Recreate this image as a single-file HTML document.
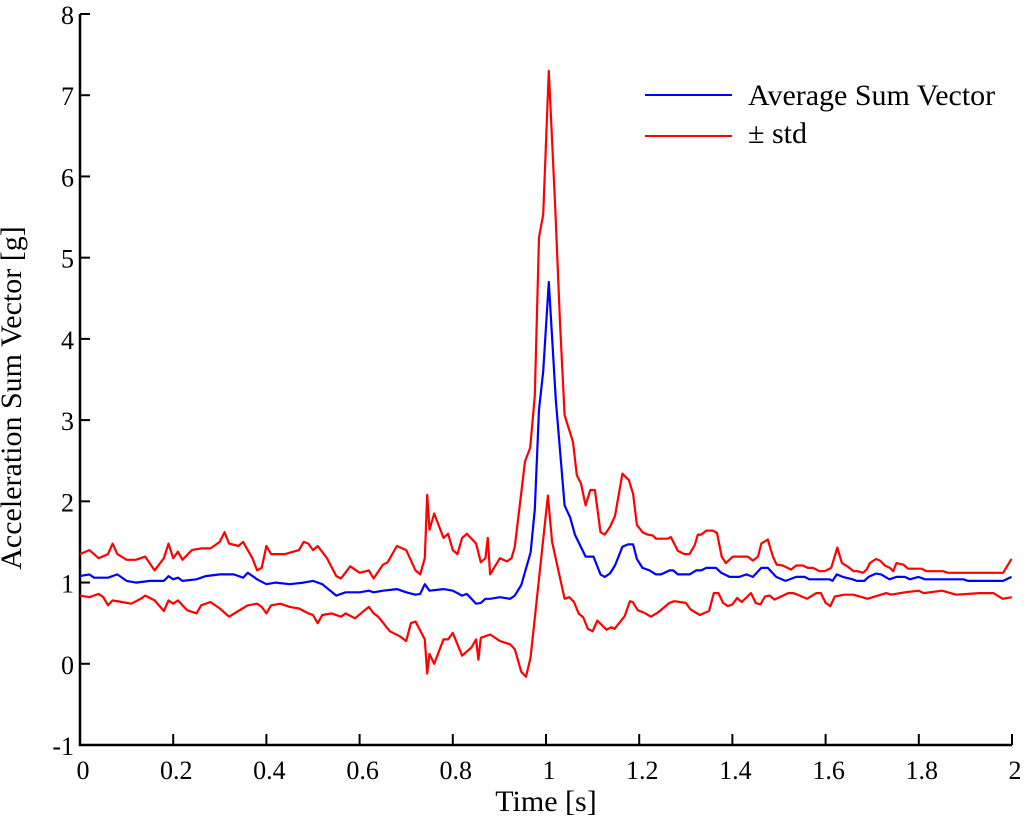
<!DOCTYPE html>
<html><head><meta charset="utf-8"><style>
html,body{margin:0;padding:0;background:#fff;}
svg{display:block;font-family:"Liberation Serif",serif;}
</style></head><body>
<svg id="chart" width="1024" height="828" viewBox="0 0 1024 828" xmlns="http://www.w3.org/2000/svg">
<g id="axes"></g>
<g id="series"></g>
<text x="0" y="0" transform="translate(21,398) rotate(-90)" text-anchor="middle" font-size="30">Acceleration Sum Vector [g]</text>
<text x="546" y="811" text-anchor="middle" font-size="30">Time [s]</text>
<g>
<line x1="645" y1="95" x2="732" y2="95" stroke="#0000ff" stroke-width="2"/>
<text x="748" y="105" font-size="30">Average Sum Vector</text>
<line x1="645" y1="136" x2="732" y2="136" stroke="#ff0000" stroke-width="2"/>
<text x="748" y="143" font-size="30">± std</text>
</g>
</svg>
<script>
const xTicks=[0,0.2,0.4,0.6,0.8,1,1.2,1.4,1.6,1.8,2];
const xTickLabels=["0","0.2","0.4","0.6","0.8","1","1.2","1.4","1.6","1.8","2"];
const yTicks=[-1,0,1,2,3,4,5,6,7,8];
const yTickLabels=["-1","0","1","2","3","4","5","6","7","8"];
const upperT=[0,.02,.04,.06,.07,.08,.1,.12,.14,.16,.18,.19,.2,.21,.22,.24,.26,.28,.3,.31,.32,.34,.35,.37,.38,.39,.4,.41,.44,.47,.48,.49,.5,.51,.53,.55,.56,.58,.6,.62,.63,.65,.66,.68,.7,.72,.73,.74,.745,.75,.76,.78,.79,.8,.81,.82,.83,.85,.86,.87,.875,.88,.901,.916,.926,.933,.955,.966,.976,.985,.994,1.006,1.02,1.03,1.04,1.058,1.066,1.075,1.085,1.095,1.105,1.117,1.126,1.137,1.148,1.164,1.178,1.187,1.195,1.207,1.218,1.229,1.236,1.261,1.268,1.283,1.297,1.308,1.319,1.326,1.333,1.344,1.358,1.367,1.377,1.386,1.401,1.433,1.444,1.455,1.462,1.476,1.487,1.495,1.508,1.526,1.537,1.551,1.562,1.573,1.587,1.598,1.612,1.625,1.635,1.649,1.66,1.668,1.68,1.688,1.695,1.708,1.717,1.727,1.738,1.745,1.752,1.767,1.777,1.806,1.817,1.852,1.863,1.981,1.999];
const upperV=[1.35,1.4,1.3,1.35,1.48,1.35,1.28,1.28,1.32,1.15,1.3,1.48,1.3,1.38,1.28,1.4,1.42,1.42,1.5,1.62,1.48,1.45,1.5,1.3,1.15,1.18,1.45,1.35,1.35,1.4,1.5,1.48,1.4,1.45,1.3,1.08,1.05,1.2,1.12,1.15,1.05,1.22,1.25,1.45,1.4,1.15,1.1,1.3,2.08,1.65,1.85,1.55,1.6,1.4,1.35,1.55,1.6,1.48,1.25,1.3,1.55,1.1,1.3,1.26,1.3,1.44,2.49,2.66,3.3,5.25,5.53,7.3,5.6,4.2,3.06,2.73,2.32,2.22,1.95,2.14,2.14,1.62,1.59,1.68,1.82,2.34,2.26,2.09,1.71,1.62,1.59,1.58,1.54,1.54,1.56,1.39,1.35,1.35,1.46,1.59,1.59,1.64,1.64,1.61,1.32,1.24,1.32,1.32,1.27,1.32,1.48,1.53,1.32,1.22,1.21,1.16,1.21,1.21,1.18,1.18,1.14,1.14,1.18,1.43,1.24,1.19,1.14,1.14,1.12,1.16,1.24,1.29,1.27,1.21,1.18,1.14,1.24,1.22,1.17,1.17,1.14,1.14,1.12,1.12,1.29];
const meanT=[0,.02,.03,.06,.08,.1,.12,.15,.18,.19,.2,.21,.22,.25,.27,.3,.33,.35,.36,.38,.4,.42,.45,.48,.5,.52,.55,.57,.6,.62,.63,.65,.68,.7,.72,.73,.74,.75,.78,.8,.82,.83,.84,.85,.86,.87,.88,.901,.923,.933,.947,.967,.976,.985,.994,1.006,1.021,1.04,1.052,1.062,1.085,1.102,1.117,1.126,1.137,1.148,1.164,1.176,1.187,1.195,1.207,1.222,1.236,1.247,1.265,1.273,1.283,1.308,1.322,1.333,1.344,1.365,1.376,1.394,1.415,1.43,1.444,1.462,1.476,1.494,1.514,1.537,1.555,1.565,1.608,1.615,1.624,1.637,1.658,1.667,1.683,1.692,1.708,1.719,1.737,1.752,1.77,1.781,1.799,1.813,1.895,1.906,1.981,1.999];
const meanV=[1.08,1.1,1.06,1.06,1.1,1.02,1,1.02,1.02,1.08,1.04,1.06,1.02,1.04,1.08,1.1,1.1,1.06,1.12,1.04,.98,1,.98,1,1.02,.98,.84,.88,.88,.9,.88,.9,.92,.88,.85,.86,.98,.9,.92,.9,.84,.86,.8,.74,.75,.8,.8,.82,.8,.84,.97,1.37,1.9,3.13,3.6,4.7,3.25,1.95,1.8,1.59,1.32,1.32,1.1,1.07,1.11,1.21,1.44,1.47,1.47,1.29,1.18,1.15,1.1,1.1,1.15,1.15,1.1,1.1,1.15,1.15,1.18,1.18,1.12,1.07,1.07,1.1,1.07,1.18,1.18,1.07,1.02,1.07,1.07,1.04,1.04,1.02,1.1,1.07,1.04,1.02,1.02,1.07,1.11,1.1,1.04,1.07,1.07,1.04,1.07,1.04,1.04,1.02,1.02,1.07];
const lowerT=[0,.02,.04,.05,.06,.07,.09,.11,.13,.14,.16,.18,.19,.2,.21,.23,.25,.26,.28,.3,.32,.34,.36,.38,.39,.4,.41,.43,.45,.47,.49,.5,.51,.52,.54,.56,.57,.59,.62,.63,.64,.665,.686,.7,.71,.72,.74,.745,.75,.76,.78,.79,.8,.82,.84,.85,.855,.86,.88,.901,.923,.933,.947,.957,.967,1.004,1.013,1.04,1.05,1.06,1.07,1.08,1.09,1.1,1.11,1.13,1.14,1.147,1.169,1.18,1.186,1.197,1.21,1.225,1.24,1.265,1.275,1.3,1.31,1.33,1.35,1.36,1.37,1.38,1.39,1.4,1.41,1.42,1.44,1.45,1.46,1.47,1.48,1.49,1.52,1.53,1.54,1.56,1.58,1.59,1.6,1.61,1.62,1.64,1.66,1.69,1.73,1.74,1.77,1.8,1.81,1.85,1.88,1.93,1.96,1.98,2.0];
const lowerV=[.84,.82,.86,.82,.72,.78,.76,.74,.8,.84,.78,.65,.78,.74,.78,.66,.62,.72,.76,.68,.58,.65,.72,.74,.7,.62,.72,.74,.7,.68,.62,.6,.5,.6,.62,.58,.62,.56,.7,.62,.58,.4,.34,.28,.5,.52,.3,-.12,.12,0,.3,.3,.38,.1,.2,.3,.05,.32,.36,.28,.24,.18,-.1,-.16,.08,2.07,1.5,.8,.82,.76,.62,.57,.43,.4,.53,.42,.45,.43,.59,.77,.76,.66,.63,.58,.63,.75,.77,.75,.67,.6,.65,.87,.87,.75,.71,.73,.81,.76,.87,.75,.73,.83,.84,.79,.87,.87,.85,.8,.87,.87,.75,.71,.83,.85,.85,.8,.87,.85,.88,.9,.87,.9,.85,.87,.87,.8,.82];

const X0=80,X1=1012,Y0=745,Y1=14;
function xs(t){return X0+(t-0)/(2-0)*(X1-X0);}
function ys(v){return Y0-(v-(-1))/(8-(-1))*(Y0-Y1);}
const NS="http://www.w3.org/2000/svg";
const axes=document.getElementById('axes'),ser=document.getElementById('series');
function mk(tag,attrs,parent){const e=document.createElementNS(NS,tag);for(const k in attrs)e.setAttribute(k,attrs[k]);parent.appendChild(e);return e;}
let yAx=mk('line',{x1:X0,y1:Y1,x2:X0,y2:Y0+1,stroke:'#000','stroke-width':2.5},axes);


let xAx=mk('line',{x1:X0-1,y1:Y0,x2:X1,y2:Y0,stroke:'#000','stroke-width':2.5},axes);


xTicks.forEach((t,i)=>{
  const tk=mk('line',{x1:xs(t),y1:Y0,x2:xs(t),y2:Y0-11,stroke:'#000','stroke-width':2},axes);
  
  
  const lb=mk('text',{x:xs(t)+3,y:Y0+34,'text-anchor':'middle','font-size':26},axes);
  lb.textContent=xTickLabels[i];
  
  
});
yTicks.forEach((v,i)=>{
  const tk=mk('line',{x1:X0,y1:ys(v),x2:X0+10,y2:ys(v),stroke:'#000','stroke-width':2},axes);
  
  
  const lb=mk('text',{x:X0-6,y:ys(v)+10,'text-anchor':'end','font-size':26},axes);
  lb.textContent=yTickLabels[i];
  
  
});
function line(T,V,color,name){
  const d=T.map((t,i)=>(i?'L':'M')+xs(t).toFixed(1)+' '+ys(V[i]).toFixed(1)).join(' ');
  const p=mk('path',{d:d,fill:'none',stroke:color,'stroke-width':2.2,'stroke-linejoin':'round'},ser);
  
  
}
line(upperT,upperV,'#ff0000','upper-std-line');
line(lowerT,lowerV,'#ff0000','lower-std-line');
line(meanT,meanV,'#0000ff','average-sum-vector-line');
</script>
</body></html>
